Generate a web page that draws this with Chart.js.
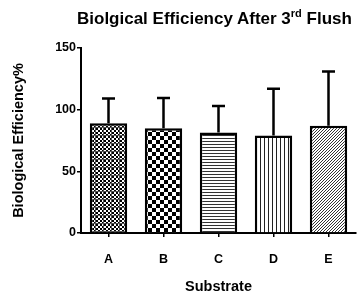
<!DOCTYPE html>
<html>
<head>
<meta charset="utf-8">
<script src="https://cdn.jsdelivr.net/npm/chart.js@4"></script>
<style>
  html, body { margin: 0; padding: 0; background: #fff; }
  #wrap { position: relative; width: 363px; height: 296px; }
  #title {
    position: absolute; left: 77px; top: 9px; white-space: nowrap;
    font: bold 17px "Liberation Sans", Arial, sans-serif; color: #000;
  }
  #title sup { font-size: 11px; vertical-align: 7px; line-height: 0; }
</style>
</head>
<body>
<div id="wrap">
  <div id="title">Biolgical Efficiency After 3<sup>rd</sup> Flush</div>
  <canvas id="chart" width="363" height="296"></canvas>
</div>
<script>
// data
const substrates = ['A', 'B', 'C', 'D', 'E'];
const meanValues = [89, 85, 81.5, 79, 87];
const upperValues = [109, 109.5, 103, 117, 131];
const yTicks = [0, 50, 100, 150];

// fill patterns for each bar
function makePattern(size, draw) {
    const c = document.createElement('canvas');
    c.width = size;
    c.height = size;
    const g = c.getContext('2d');
    g.fillStyle = '#fff';
    g.fillRect(0, 0, size, size);
    g.fillStyle = '#000';
    draw(g, size);
    return c.getContext('2d').createPattern(c, 'repeat');
}

const ctx = document.getElementById('chart').getContext('2d');

const patterns = [
    // small checks with grid lines
    makePattern(8, (g) => {
        for (let y = 0; y < 8; y += 2)
            for (let x = 0; x < 8; x += 2)
                if (((x + y) / 2) % 2 === 0) g.fillRect(x, y, 2, 2);
        g.fillStyle = '#555';
        g.fillRect(0, 7, 8, 1);
        g.fillRect(7, 0, 1, 8);
    }),
    // larger checkerboard
    makePattern(8, (g) => {
        g.fillRect(0, 0, 4, 4);
        g.fillRect(4, 4, 4, 4);
    }),
    // horizontal lines
    makePattern(3, (g) => {
        g.fillStyle = '#333';
        g.fillRect(0, 0, 3, 1);
    }),
    // vertical lines
    makePattern(4, (g) => {
        g.fillStyle = '#222';
        g.fillRect(0, 0, 1, 4);
    }),
    // diagonal hatching
    makePattern(3, (g) => {
        g.fillStyle = '#333';
        for (let i = 0; i < 3; i++) g.fillRect(2 - i, i, 1, 1);
    })
];

// error bars drawn on top of the bars
const errorBarPlugin = {
    id: 'errorBars',
    afterDatasetsDraw(chart) {
        const meta = chart.getDatasetMeta(0);
        const yScale = chart.scales.y;
        const g = chart.ctx;
        g.save();
        g.strokeStyle = '#000';
        g.lineWidth = 2.5;
        meta.data.forEach((bar, i) => {
            const top = yScale.getPixelForValue(upperValues[i]);
            g.beginPath();
            g.moveTo(bar.x, bar.y);
            g.lineTo(bar.x, top);
            g.moveTo(bar.x - 6.5, top);
            g.lineTo(bar.x + 6.5, top);
            g.stroke();
        });
        g.restore();
    }
};

const tickFont = { family: 'Liberation Sans, Arial, sans-serif', size: 12.5, weight: 'bold' };
const titleFont = { family: 'Liberation Sans, Arial, sans-serif', size: 14.5, weight: 'bold' };

new Chart(ctx, {
    type: 'bar',
    data: {
        labels: substrates,
        datasets: [{
            data: meanValues,
            backgroundColor: patterns,
            borderColor: '#000',
            borderWidth: 2.5,
            borderSkipped: 'bottom',
            categoryPercentage: 1,
            barPercentage: 0.68
        }]
    },
    options: {
        responsive: false,
        animation: false,
        layout: { padding: { top: 48, right: 7, left: 0, bottom: 0 } },
        plugins: {
            legend: { display: false },
            tooltip: { enabled: false }
        },
        scales: {
            x: {
                grid: { display: true, offset: false, drawOnChartArea: false, drawTicks: true, tickLength: 4, color: '#000', lineWidth: 1.5 },
                border: { color: '#000', width: 2 },
                ticks: { color: '#000', font: tickFont, padding: 15 },
                title: {
                    display: true, text: 'Substrate', color: '#000',
                    font: titleFont, padding: { top: 8, bottom: 0 }
                },
                afterFit(scale) { scale.height = 63; }
            },
            y: {
                min: 0,
                max: 150,
                afterBuildTicks(scale) { scale.ticks = yTicks.map(v => ({ value: v })); },
                grid: { display: true, drawOnChartArea: false, drawTicks: true, tickLength: 4, color: '#000', lineWidth: 1.5 },
                border: { color: '#000', width: 2 },
                ticks: { color: '#000', font: tickFont, padding: 1 },
                title: {
                    display: true, text: 'Biological Efficiency%', color: '#000',
                    font: titleFont, padding: { top: 10, bottom: 4 }
                },
                afterFit(scale) { scale.width = 81; }
            }
        }
    },
    plugins: [errorBarPlugin]
});
</script>
</body>
</html>
